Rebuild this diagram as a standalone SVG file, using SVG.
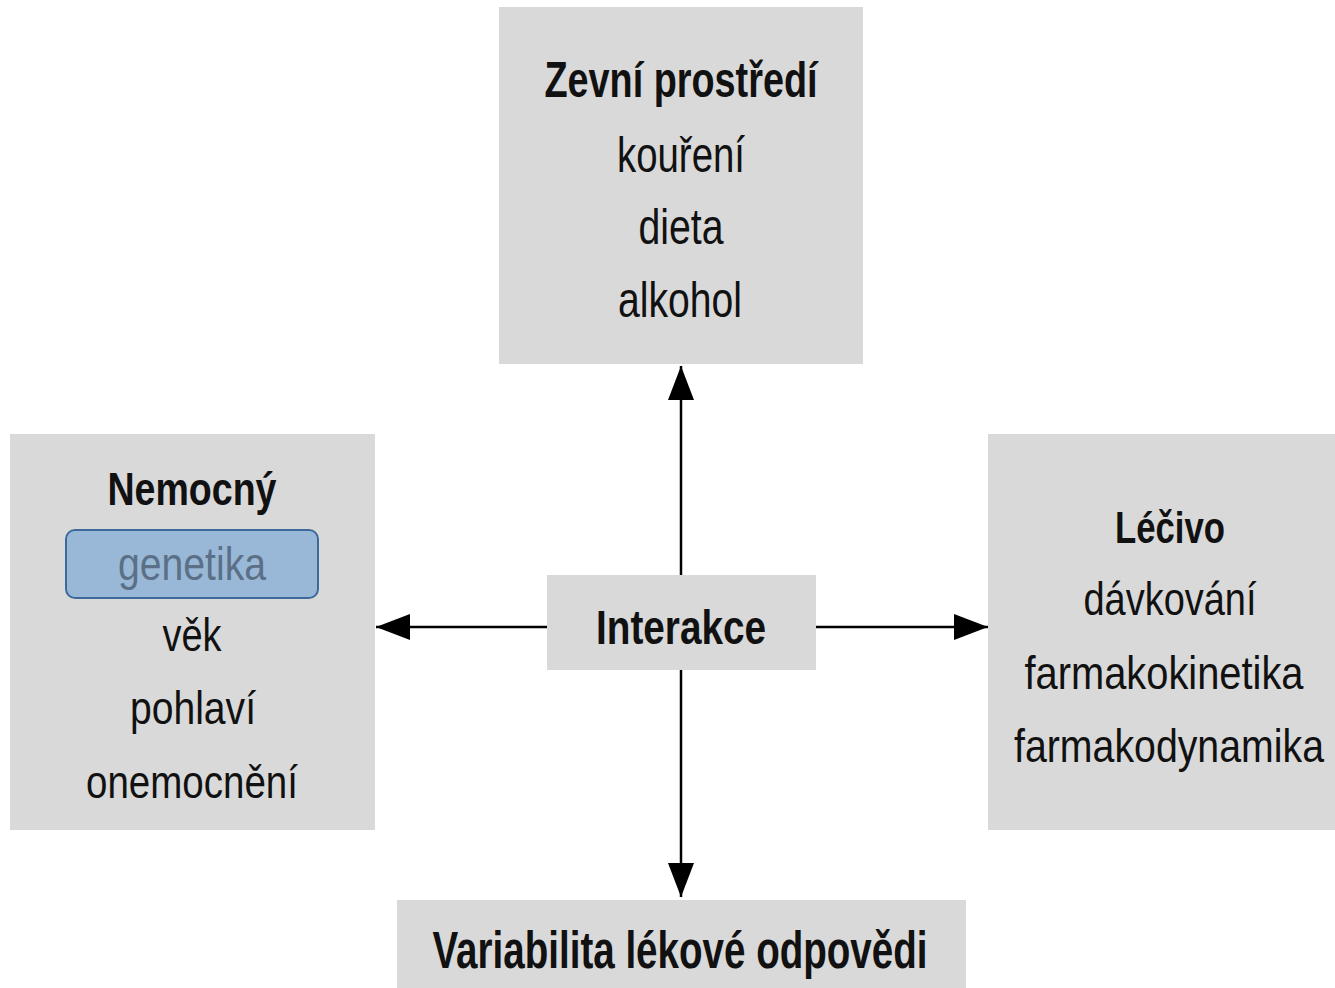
<svg xmlns="http://www.w3.org/2000/svg" width="1335" height="988" viewBox="0 0 1335 988">
<style>
.box{fill:#d9d9d9;}
.t{font-family:"Liberation Sans","Arial",sans-serif;fill:#111;text-anchor:middle;}
.b{font-weight:bold;}
.ln{stroke:#000;stroke-width:2.5;fill:none;}
</style>
<defs>
<marker id="ah" markerUnits="userSpaceOnUse" markerWidth="34" markerHeight="26" refX="34" refY="13" orient="auto">
<path d="M0,0 L34,13 L0,26 z" fill="#000"/>
</marker>
</defs>
<rect width="1335" height="988" fill="#fff"/>
<g id="connectors">
<line class="ln" x1="681" y1="575" x2="681" y2="366" marker-end="url(#ah)"/>
<line class="ln" x1="681" y1="670" x2="681" y2="897" marker-end="url(#ah)"/>
<line class="ln" x1="547" y1="627" x2="376" y2="627" marker-end="url(#ah)"/>
<line class="ln" x1="816" y1="627" x2="988" y2="627" marker-end="url(#ah)"/>
</g>
<g id="zevni">
<rect class="box" x="499" y="7" width="364" height="357"/>
<text class="t b" x="681" y="97" font-size="50" textLength="273" lengthAdjust="spacingAndGlyphs">Zevní prostředí</text>
<text class="t" x="681" y="172" font-size="50" textLength="128" lengthAdjust="spacingAndGlyphs">kouření</text>
<text class="t" x="681" y="244" font-size="50" textLength="85" lengthAdjust="spacingAndGlyphs">dieta</text>
<text class="t" x="680" y="317" font-size="50" textLength="124" lengthAdjust="spacingAndGlyphs">alkohol</text>
</g>
<g id="nemocny">
<rect class="box" x="10" y="434" width="365" height="396"/>
<text class="t b" x="192" y="505" font-size="46" textLength="169" lengthAdjust="spacingAndGlyphs">Nemocný</text>
<rect x="66" y="530" width="252" height="68" rx="9" fill="#99b8d8" stroke="#3d6a9a" stroke-width="2"/>
<text class="t" x="192" y="580" font-size="46" textLength="148" lengthAdjust="spacingAndGlyphs" style="fill:#5b7086">genetika</text>
<text class="t" x="192" y="651" font-size="46" textLength="59" lengthAdjust="spacingAndGlyphs">věk</text>
<text class="t" x="193" y="724" font-size="46" textLength="126" lengthAdjust="spacingAndGlyphs">pohlaví</text>
<text class="t" x="192" y="798" font-size="46" textLength="212" lengthAdjust="spacingAndGlyphs">onemocnění</text>
</g>
<g id="interakce">
<rect class="box" x="547" y="575" width="269" height="95"/>
<text class="t b" x="681" y="644" font-size="49" textLength="170" lengthAdjust="spacingAndGlyphs">Interakce</text>
</g>
<g id="lecivo">
<rect class="box" x="988" y="434" width="347" height="396"/>
<text class="t b" x="1170" y="543" font-size="45" textLength="110" lengthAdjust="spacingAndGlyphs">Léčivo</text>
<text class="t" x="1170" y="615" font-size="46" textLength="173" lengthAdjust="spacingAndGlyphs">dávkování</text>
<text class="t" x="1164" y="689" font-size="46" textLength="279" lengthAdjust="spacingAndGlyphs">farmakokinetika</text>
<text class="t" x="1169" y="762" font-size="46" textLength="310" lengthAdjust="spacingAndGlyphs">farmakodynamika</text>
</g>
<g id="variabilita">
<rect class="box" x="397" y="900" width="569" height="90"/>
<text class="t b" x="680" y="968" font-size="51" textLength="495" lengthAdjust="spacingAndGlyphs">Variabilita lékové odpovědi</text>
</g>
</svg>
